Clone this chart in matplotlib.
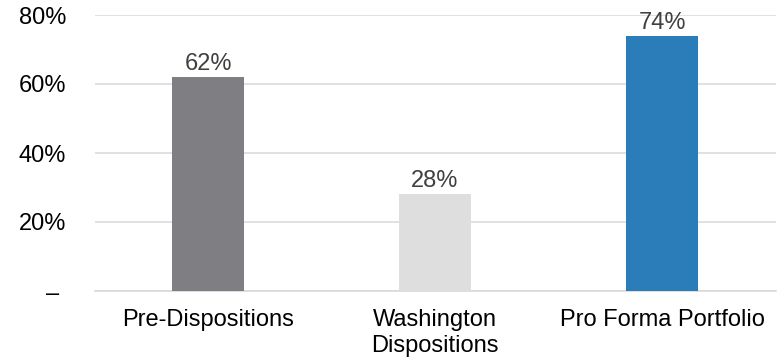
import matplotlib
matplotlib.use("Agg")
import matplotlib.pyplot as plt

categories = ["Pre-Dispositions", "Washington\nDispositions", "Pro Forma Portfolio"]
values = [62, 28, 74]
bar_colors = ["#7f7f83", "#dedede", "#2a7db8"]
y_ticks = [0, 20, 40, 60, 80]
y_tick_labels = ["– ", "20%", "40%", "60%", "80%"]

plt.rcParams["font.family"] = ["Liberation Sans", "DejaVu Sans"]

fig = plt.figure(figsize=(7.81, 3.61), dpi=100)
ax = fig.add_axes([94.5 / 781, 1 - 291 / 361, 681 / 781, 276 / 361])

x = range(len(categories))
bars = ax.bar(x, values, width=0.317, color=bar_colors, zorder=3)
for xi, v in zip(x, values):
    ax.text(xi, v + 0.6, f"{v}%", ha="center", va="bottom",
            fontsize=17, color="#404040", zorder=4)

ax.set_xlim(-0.5, len(categories) - 0.5)
ax.set_ylim(0, 80)
ax.set_yticks(y_ticks)
ax.set_yticklabels(y_tick_labels, fontsize=17, color="#000000")
ax.set_xticks(list(x))
ax.set_xticklabels(categories, fontsize=17, color="#000000", linespacing=1.25)
ax.tick_params(axis="y", length=0, pad=20.5)
ax.tick_params(axis="x", length=0, pad=13)

ax.yaxis.grid(True, color="#dcdcdc", linewidth=1.2, zorder=0)
for side in ["top", "right", "left"]:
    ax.spines[side].set_visible(False)
ax.spines["bottom"].set_color("#d9d9d9")
ax.spines["bottom"].set_linewidth(1.2)

fig.savefig("out.png", dpi=100)
